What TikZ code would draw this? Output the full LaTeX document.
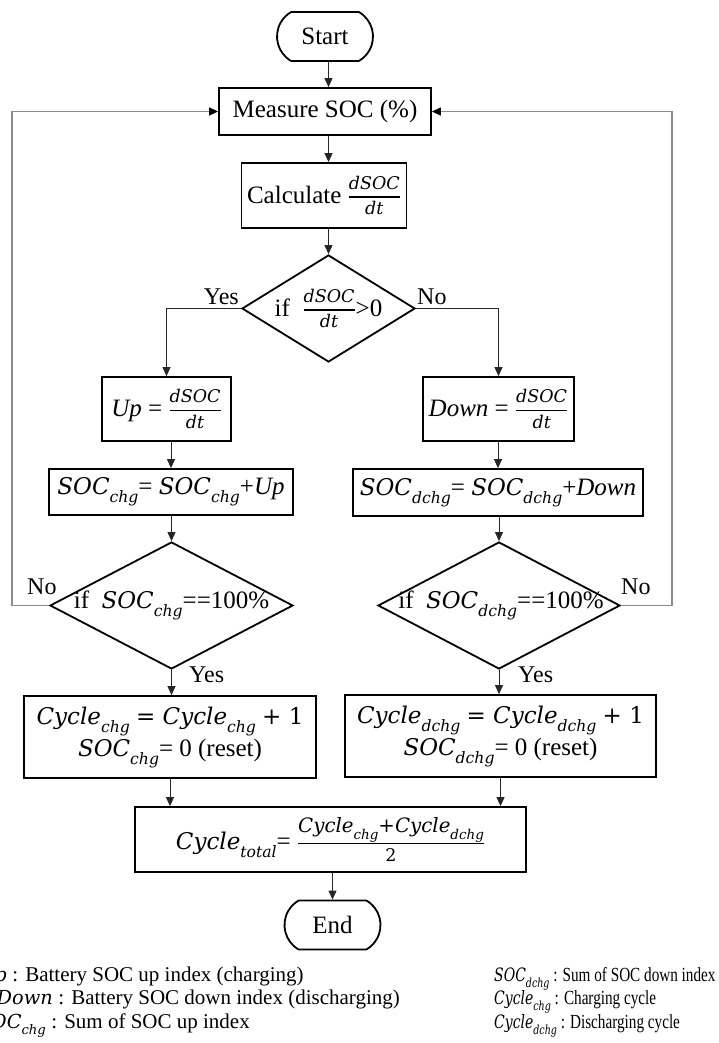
\documentclass[tikz,border=0pt]{standalone}
\usepackage{fontspec}
\usepackage{graphicx}
\setmainfont{Liberation Serif}
\newfontfamily\cambr{DejaVu Serif}[Scale=0.92]
\usetikzlibrary{arrows.meta,shapes.geometric,shapes.misc}

\makeatletter
% italic variable in the equation face
\newcommand\cmb[1]{{\cambr\itshape #1}}
% lowered subscript, about two thirds of the running size
\newcommand\sbs[1]{\raisebox{-0.32em}{\fontsize{\fpeval{0.68*\f@size}}{0}\selectfont\cambr\itshape #1}}
\makeatother
% built-up fraction with a fixed rule and open spacing
\newcommand\nfr[2]{$\hbox{\rule[-6pt]{0pt}{6pt}#1}\above 1.1pt\hbox{\rule{0pt}{16pt}#2}$}
\newcommand\dfr[2]{\nfr{\fontsize{19}{19}\selectfont\cambr\itshape #1}{\fontsize{19}{19}\selectfont\cambr\itshape #2}}
% narrow setting for the right legend column
\newcommand\narrow[1]{\scalebox{0.76}[1]{#1}}

\begin{document}
\begin{tikzpicture}[x=1pt,y=-1pt,
  font=\fontsize{25}{31}\selectfont,
  box/.style={draw=black, line width=1.8pt, inner sep=0pt, align=center},
  term/.style={rounded rectangle, rounded rectangle arc length=120, draw=black,
    line width=1.8pt, inner sep=0pt, minimum width=96pt, minimum height=49pt},
  dec/.style={diamond, draw=black, line width=1.8pt, inner sep=0pt},
  flow/.style={draw=black!85, line width=1pt, -{Triangle[length=9pt,width=8pt]}},
  loopback/.style={draw=black!45, line width=1.3pt,
    -{Triangle[length=9pt,width=8pt,color=black]}},
  lbl/.style={font=\fontsize{24}{28}\selectfont, inner sep=0pt},
  leg/.style={font=\fontsize{21}{25}\selectfont, inner sep=0pt},
  legr/.style={font=\fontsize{20}{24}\selectfont, inner sep=0pt},
]
\useasboundingbox (0,0) rectangle (718,1043);
\clip (0,0) rectangle (718,1043);

% ---- main column ----
\node[term] (start) at (325,36.5) {Start};
\node[box, minimum width=212pt, minimum height=47pt] (meas) at (325,111.5) {Measure SOC (\%)};
\node[box, minimum width=165pt, minimum height=65pt] (calc) at (324,195.5) {Calculate \dfr{dSOC}{dt}};
\node[dec, minimum width=173pt, minimum height=107pt] (d1) at (328.5,308.5)
  {\makebox[0pt]{if \ \dfr{dSOC}{dt}>0}};

% ---- charging branch ----
\node[box, minimum width=129pt, minimum height=64pt] (up) at (166.5,409) {\textit{Up} = \dfr{dSOC}{dt}};
\node[box, minimum width=244pt, minimum height=46pt] (socc) at (171,492)
  {\cmb{SOC}\sbs{chg}= \cmb{SOC}\sbs{chg}+\textit{Up}};
\node[dec, minimum width=243pt, minimum height=127pt] (d2) at (171.5,605.5)
  {\makebox[0pt]{if \ \cmb{SOC}\sbs{chg}==100\%}};
\node[box, minimum width=292pt, minimum height=82pt] (c1) at (170,737)
  {\cmb{Cycle}\sbs{chg} {\cambr = }\cmb{Cycle}\sbs{chg} {\cambr + 1}\\[1pt]
   \cmb{SOC}\sbs{chg}= 0 (reset)};

% ---- discharging branch ----
\node[box, minimum width=151pt, minimum height=64pt] (down) at (498.5,409) {\textit{Down} = \dfr{dSOC}{dt}};
\node[box, minimum width=290pt, minimum height=47pt] (socd) at (498,492.5)
  {\cmb{SOC}\sbs{dchg}= \cmb{SOC}\sbs{dchg}+\textit{Down}};
\node[dec, minimum width=242pt, minimum height=127pt] (d3) at (499,605.5)
  {\makebox[0pt]{\hspace{4pt}if \ \cmb{SOC}\sbs{dchg}==100\%}};
\node[box, minimum width=311pt, minimum height=82pt] (c2) at (500.5,736)
  {\cmb{Cycle}\sbs{dchg} {\cambr = }\cmb{Cycle}\sbs{dchg} {\cambr + 1}\\[1pt]
   \cmb{SOC}\sbs{dchg}= 0 (reset)};

% ---- merge ----
\node[box, minimum width=391pt, minimum height=65pt] (tot) at (330.5,839.5)
  {\cmb{Cycle}\sbs{total}= \nfr{\fontsize{21.5}{21}\selectfont\cambr\itshape Cycle\sbs{chg}{\upshape+}Cycle\sbs{dchg}}{\fontsize{19}{19}\selectfont\cambr 2}};
\node[term] (end) at (332.5,925) {End};

% ---- connectors ----
\coordinate (lx) at (12,0);
\coordinate (rx) at (672,0);
\draw[flow] (start.south -| d1.north) -- (meas.north -| d1.north);
\draw[flow] (meas.south -| d1.north) -- (calc.north -| d1.north);
\draw[flow] (calc.south -| d1.north) -- (d1.north);
\draw[flow] (d1.west) -| (up.north);
\draw[flow] (d1.east) -| (down.north);
\draw[flow] (up.south -| socc.north) -- (socc.north);
\draw[flow] (down.south -| socd.north) -- (socd.north);
\draw[flow] (socc.south -| d2.north) -- (d2.north);
\draw[flow] (socd.south -| d3.north) -- (d3.north);
\draw[flow] (d2.south) -- (d2.south |- c1.north);
\draw[flow] (d3.south) -- (d3.south |- c2.north);
\draw[flow] (c1.south) -- (c1.south |- tot.north);
\draw[flow] (c2.south) -- (c2.south |- tot.north);
\draw[flow] (tot.south -| end.north) -- (end.north);
\draw[loopback] (d2.west) -- (d2.west -| lx) |- (meas.west);
\draw[loopback] (d3.east) -- (d3.east -| rx) |- (meas.east);

% ---- branch labels ----
\node[lbl, anchor=base east] (y1) at (239,304) {Yes};
\node[lbl, anchor=base west] (n1) at (417,304) {No};
\node[lbl, anchor=base west] (n2) at (27,594) {No};
\node[lbl, anchor=base west] (n3) at (621,594) {No};
\node[lbl, anchor=base west] (y2) at (189,682) {Yes};
\node[lbl, anchor=base west] (y3) at (518,682) {Yes};

% ---- legend ----
\node[leg, anchor=base east] (l1) at (7,981) {\cmb{Up}};
\node[leg, anchor=base west] (t1) at (l1.base east) {\ : Battery SOC up index (charging)};
\node[leg, anchor=base east] (l2) at (53,1004.5) {\cmb{Down}};
\node[leg, anchor=base west] (t2) at (l2.base east) {\ : Battery SOC down index (discharging)};
\node[leg, anchor=base east] (l3) at (46,1028) {\cmb{SOC}\sbs{chg}};
\node[leg, anchor=base west] (t3) at (l3.base east) {\ : Sum of SOC up index};
\node[legr, anchor=base west] (r1) at (494,981) {\narrow{\cmb{SOC}\sbs{dchg} : Sum of SOC down index}};
\node[legr, anchor=base west] (r2) at (494,1004.5) {\narrow{\cmb{Cycle}\sbs{chg} : Charging cycle}};
\node[legr, anchor=base west] (r3) at (494,1028) {\narrow{\cmb{Cycle}\sbs{dchg} : Discharging cycle}};
\end{tikzpicture}
\end{document}
